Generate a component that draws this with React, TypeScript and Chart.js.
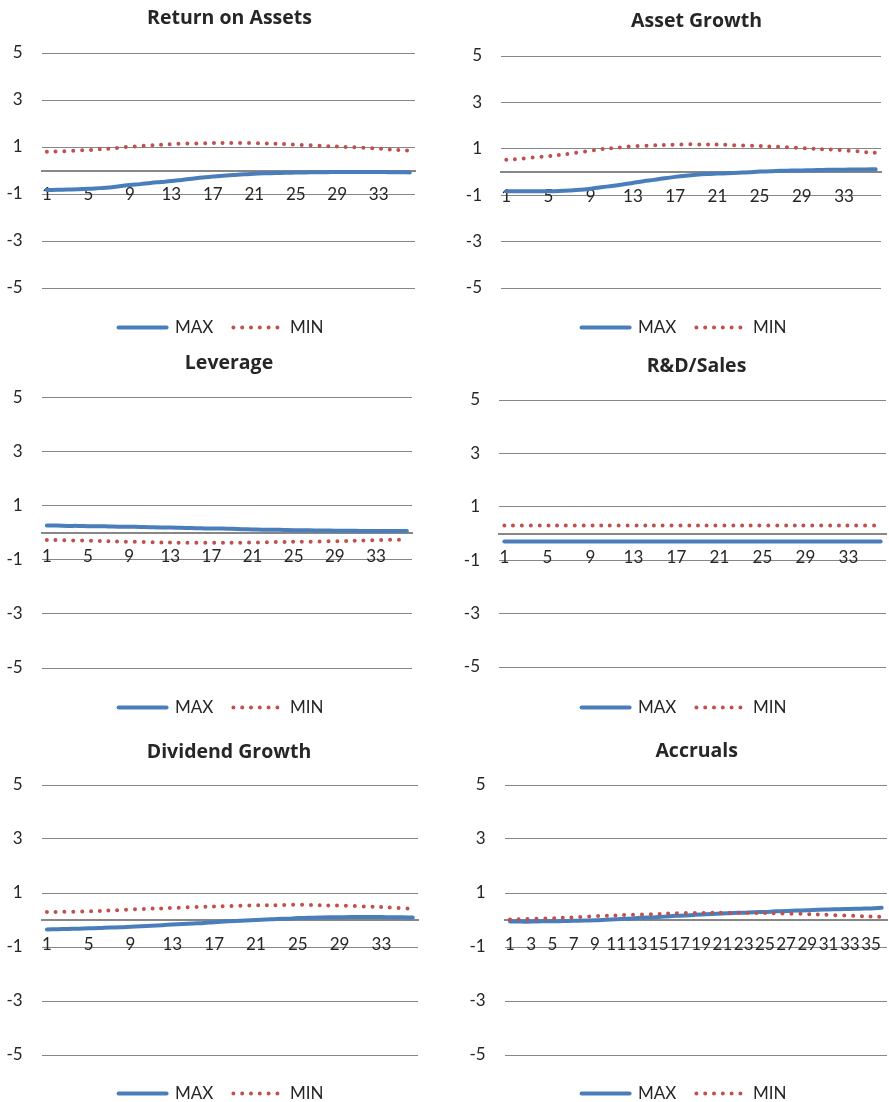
import React, { useEffect, useRef } from 'react';
import { Chart, registerables } from 'chart.js';

Chart.register(...registerables);

// ---------------- DATA ----------------
const categories = ['1', '2', '3', '4', '5', '6', '7', '8', '9', '10', '11', '12', '13', '14', '15', '16', '17', '18',
  '19', '20', '21', '22', '23', '24', '25', '26', '27', '28', '29', '30', '31', '32', '33', '34', '35', '36'];

const seriesNames = ['MAX', 'MIN'];

const titles = ['Return on Assets', 'Asset Growth', 'Leverage', 'R&D/Sales', 'Dividend Growth', 'Accruals'];

const roaMax = [-0.83, -0.82, -0.81, -0.80, -0.78, -0.75, -0.72, -0.67, -0.62, -0.58, -0.53, -0.49, -0.45, -0.40, -0.35, -0.30, -0.26, -0.22,
  -0.19, -0.16, -0.14, -0.12, -0.11, -0.10, -0.09, -0.08, -0.07, -0.07, -0.06, -0.06, -0.06, -0.06, -0.06, -0.07, -0.07, -0.08];
const roaMin = [0.80, 0.81, 0.83, 0.85, 0.87, 0.90, 0.93, 0.97, 1.01, 1.04, 1.07, 1.10, 1.12, 1.14, 1.15, 1.16, 1.17, 1.17,
  1.17, 1.17, 1.16, 1.15, 1.14, 1.12, 1.10, 1.08, 1.06, 1.04, 1.02, 1.00, 0.98, 0.96, 0.93, 0.90, 0.87, 0.84];

const agMax = [-0.83, -0.83, -0.83, -0.83, -0.83, -0.82, -0.80, -0.77, -0.72, -0.66, -0.60, -0.54, -0.47, -0.40, -0.34, -0.27, -0.21, -0.16,
  -0.12, -0.09, -0.07, -0.05, -0.03, -0.01, 0.02, 0.03, 0.05, 0.06, 0.07, 0.08, 0.09, 0.10, 0.10, 0.11, 0.11, 0.12];
const agMin = [0.53, 0.56, 0.60, 0.64, 0.68, 0.73, 0.79, 0.85, 0.92, 0.98, 1.03, 1.07, 1.11, 1.13, 1.15, 1.17, 1.18, 1.19,
  1.19, 1.19, 1.18, 1.17, 1.15, 1.14, 1.12, 1.10, 1.08, 1.06, 1.03, 1.01, 0.98, 0.96, 0.93, 0.90, 0.86, 0.83];

const levMax = [0.26, 0.26, 0.25, 0.25, 0.24, 0.24, 0.23, 0.22, 0.22, 0.21, 0.20, 0.19, 0.19, 0.18, 0.17, 0.16, 0.15, 0.15,
  0.14, 0.13, 0.12, 0.11, 0.11, 0.10, 0.09, 0.09, 0.08, 0.08, 0.07, 0.07, 0.07, 0.06, 0.06, 0.06, 0.06, 0.06];
const levMin = [-0.27, -0.27, -0.28, -0.29, -0.30, -0.31, -0.32, -0.33, -0.34, -0.34, -0.35, -0.36, -0.36, -0.37, -0.37, -0.37, -0.37, -0.37,
  -0.37, -0.37, -0.36, -0.36, -0.35, -0.35, -0.34, -0.34, -0.33, -0.32, -0.32, -0.31, -0.30, -0.29, -0.28, -0.27, -0.26, -0.25];

const rdMax = [-0.30, -0.30, -0.30, -0.30, -0.30, -0.30, -0.30, -0.30, -0.30, -0.30, -0.30, -0.30, -0.30, -0.30, -0.30, -0.30, -0.30, -0.30,
  -0.30, -0.30, -0.30, -0.30, -0.30, -0.30, -0.30, -0.30, -0.30, -0.30, -0.30, -0.30, -0.30, -0.30, -0.30, -0.30, -0.30, -0.30];
const rdMin = [0.30, 0.30, 0.30, 0.30, 0.30, 0.30, 0.30, 0.30, 0.30, 0.30, 0.30, 0.30, 0.30, 0.30, 0.30, 0.30, 0.30, 0.30,
  0.30, 0.30, 0.30, 0.30, 0.30, 0.30, 0.30, 0.30, 0.30, 0.30, 0.30, 0.30, 0.30, 0.30, 0.30, 0.30, 0.30, 0.30];

const dgMax = [-0.35, -0.34, -0.33, -0.32, -0.31, -0.30, -0.28, -0.27, -0.25, -0.23, -0.21, -0.19, -0.17, -0.15, -0.13, -0.11, -0.08, -0.06,
  -0.04, -0.02, 0.00, 0.02, 0.04, 0.05, 0.07, 0.08, 0.09, 0.10, 0.10, 0.11, 0.11, 0.11, 0.11, 0.10, 0.10, 0.09];
const dgMin = [0.30, 0.30, 0.31, 0.31, 0.32, 0.33, 0.35, 0.37, 0.39, 0.40, 0.42, 0.43, 0.45, 0.46, 0.48, 0.49, 0.50, 0.51,
  0.52, 0.53, 0.54, 0.55, 0.55, 0.56, 0.56, 0.56, 0.55, 0.54, 0.53, 0.52, 0.51, 0.49, 0.48, 0.46, 0.44, 0.42];

const accMax = [-0.06, -0.06, -0.06, -0.05, -0.05, -0.04, -0.03, -0.02, -0.01, 0.01, 0.03, 0.05, 0.07, 0.09, 0.11, 0.14, 0.16, 0.18,
  0.20, 0.22, 0.24, 0.26, 0.27, 0.29, 0.30, 0.32, 0.33, 0.35, 0.36, 0.38, 0.39, 0.40, 0.41, 0.42, 0.43, 0.45];
const accMin = [0.02, 0.03, 0.04, 0.05, 0.06, 0.08, 0.10, 0.12, 0.14, 0.16, 0.17, 0.19, 0.20, 0.21, 0.22, 0.24, 0.25, 0.26,
  0.26, 0.27, 0.27, 0.27, 0.27, 0.26, 0.26, 0.25, 0.24, 0.23, 0.22, 0.20, 0.19, 0.17, 0.16, 0.14, 0.13, 0.12];

const maxSeries = [roaMax, agMax, levMax, rdMax, dgMax, accMax];
const minSeries = [roaMin, agMin, levMin, rdMin, dgMin, accMin];
const labelSteps = [4, 4, 4, 4, 4, 2];

const yMin = -5;
const yMax = 5;
const yStep = 2;

// ---------------- STYLE / LAYOUT ----------------
const FONT = 'Lato, "Liberation Sans", sans-serif';
const TITLE_FONT = '"Open Sans", Lato, sans-serif';
const TEXT = '#262626';
const GRID = '#878787';
const BLUE = '#4a7ebb';
const RED = '#c0504d';
const TITLE_SIZE = 19.5;
const TICK_SIZE = 17;
const LEG_FONT = 17;
const LEG_PAD = 20;
const Y_W = 38;
const TITLE_NUDGE = 2;
const LEGEND_NUDGE = 1;

const layouts = [
  { cx: 0, cw: 445, top: 0, plotLeft: 41.7, plotRight: 415, plotTop: 53, plotBottom: 288, titleX: 229.5, titleY: 17, legendX: 221, legendY: 327 },
  { cx: 445, cw: 444, top: 0, plotLeft: 501, plotRight: 881, plotTop: 56, plotBottom: 288, titleX: 696.5, titleY: 20, legendX: 684, legendY: 327 },
  { cx: 0, cw: 445, top: 340, plotLeft: 41.7, plotRight: 412, plotTop: 397.3, plotBottom: 668, titleX: 229, titleY: 362, legendX: 221, legendY: 707 },
  { cx: 445, cw: 444, top: 340, plotLeft: 499, plotRight: 886, plotTop: 400, plotBottom: 667, titleX: 696.5, titleY: 364.5, legendX: 684, legendY: 707 },
  { cx: 0, cw: 445, top: 725, plotLeft: 41.7, plotRight: 418, plotTop: 785, plotBottom: 1055, titleX: 229, titleY: 751, legendX: 221, legendY: 1093 },
  { cx: 445, cw: 444, top: 725, plotLeft: 504.7, plotRight: 887, plotTop: 785, plotBottom: 1055, titleX: 696.7, titleY: 750.4, legendX: 684, legendY: 1093 },
];

const shiftPlugin = {
  id: 'shiftText',
  afterLayout(chart: any, _args: any, opts: any) {
    const t = chart.titleBlock;
    if (t) { t.left += opts.titleDx || 0; t.right += opts.titleDx || 0; }
    const l = chart.legend;
    if (l) { l.left += opts.legendDx || 0; l.right += opts.legendDx || 0; }
  },
};

function Panel({ i }: { i: number }) {
  const ref = useRef<HTMLCanvasElement | null>(null);
  const L = layouts[i];
  const th = TITLE_SIZE * 1.2;
  const pt = L.titleY + TITLE_NUDGE - 0.5 - th / 2 - L.top;
  const pb = L.plotTop - L.top - pt - th;
  const legH = LEG_FONT + LEG_PAD + 10;
  const legTop = L.legendY + LEGEND_NUDGE - 0.5 - LEG_PAD - LEG_FONT / 2;
  const gap = legTop - L.plotBottom;
  const h = Math.ceil(legTop + legH - L.top + 1);
  const padBottom = h - (legTop + legH - L.top);
  const pl = L.plotLeft - L.cx - Y_W;
  const pr = L.cx + L.cw - L.plotRight;
  const defCenter = (L.cx + pl + L.plotRight) / 2;
  const step = labelSteps[i];

  useEffect(() => {
    const canvas = ref.current;
    if (!canvas) return;
    const chart = new Chart(canvas, {
      type: 'line',
      data: {
        labels: categories,
        datasets: [
          {
            label: seriesNames[0],
            data: maxSeries[i],
            borderColor: BLUE,
            backgroundColor: BLUE,
            borderWidth: 4,
            borderCapStyle: 'round',
            borderJoinStyle: 'round',
            pointRadius: 0,
            tension: 0.4,
            fill: false,
            order: 1,
            xAxisID: 'x',
            yAxisID: 'y',
          },
          {
            label: seriesNames[1],
            data: minSeries[i],
            borderColor: RED,
            backgroundColor: RED,
            borderWidth: 4,
            borderDash: [0, 8.8],
            borderCapStyle: 'round',
            borderJoinStyle: 'round',
            pointRadius: 0,
            tension: 0.4,
            fill: false,
            order: 0,
            xAxisID: 'x',
            yAxisID: 'y',
          },
        ],
      },
      options: {
        responsive: false,
        animation: false,
        events: [],
        layout: { padding: { left: pl, right: pr, top: 0, bottom: padBottom }, autoPadding: false },
        scales: {
          x: {
            type: 'category',
            offset: true,
            position: { y: 0 },
            grid: { display: false, drawTicks: false },
            border: { display: true, color: GRID, width: 2 },
            ticks: {
              autoSkip: false,
              maxRotation: 0,
              minRotation: 0,
              padding: 14,
              color: TEXT,
              font: { family: FONT, size: TICK_SIZE },
              callback: (_v: any, idx: number) => (idx % step === 0 ? categories[idx] : ''),
            },
            afterFit: (s: any) => { s.paddingLeft = 0; s.paddingRight = 0; },
          },
          gap: {
            type: 'category',
            position: 'bottom',
            display: true,
            grid: { display: false, drawTicks: false },
            border: { display: false },
            ticks: { display: false },
            afterFit: (s: any) => { s.height = gap; s.paddingLeft = 0; s.paddingRight = 0; },
          },
          y: {
            type: 'linear',
            min: yMin,
            max: yMax,
            grid: { color: GRID, lineWidth: 1, drawTicks: false },
            border: { display: false },
            ticks: {
              stepSize: yStep,
              padding: 19,
              color: TEXT,
              font: { family: FONT, size: TICK_SIZE },
            },
            afterFit: (s: any) => { s.width = Y_W; s.paddingTop = 0; s.paddingBottom = 0; },
          },
        },
        plugins: {
          title: {
            display: true,
            text: titles[i],
            color: TEXT,
            font: { family: TITLE_FONT, size: TITLE_SIZE, weight: 'bold', lineHeight: 1.2 },
            padding: { top: pt, bottom: pb },
          },
          legend: {
            display: true,
            position: 'bottom',
            labels: {
              usePointStyle: true,
              pointStyle: 'line',
              pointStyleWidth: 48,
              padding: LEG_PAD,
              color: TEXT,
              font: { family: FONT, size: LEG_FONT },
              generateLabels: (c: any) =>
                c.data.datasets.map((ds: any, k: number) => ({
                  text: ds.label,
                  fillStyle: ds.borderColor,
                  strokeStyle: ds.borderColor,
                  fontColor: TEXT,
                  lineWidth: ds.borderWidth,
                  lineDash: ds.borderDash || [],
                  lineDashOffset: 0,
                  lineCap: 'round',
                  lineJoin: 'round',
                  pointStyle: 'line',
                  rotation: 0,
                  hidden: false,
                  datasetIndex: k,
                })),
            },
          },
          tooltip: { enabled: false },
          shiftText: { titleDx: L.titleX - defCenter, legendDx: L.legendX - defCenter },
        } as any,
      },
      plugins: [shiftPlugin as any],
    } as any);
    return () => chart.destroy();
  }, []);

  return (
    <canvas
      ref={ref}
      width={L.cw}
      height={h}
      style={{ position: 'absolute', left: L.cx, top: L.top, width: L.cw, height: h, display: 'block' }}
    />
  );
}

export default function App() {
  return (
    <div style={{ position: 'absolute', left: 0, top: 0, width: 889, height: 1102, overflow: 'hidden', background: '#fff' }}>
      {layouts.map((_, i) => (
        <Panel key={i} i={i} />
      ))}
    </div>
  );
}
